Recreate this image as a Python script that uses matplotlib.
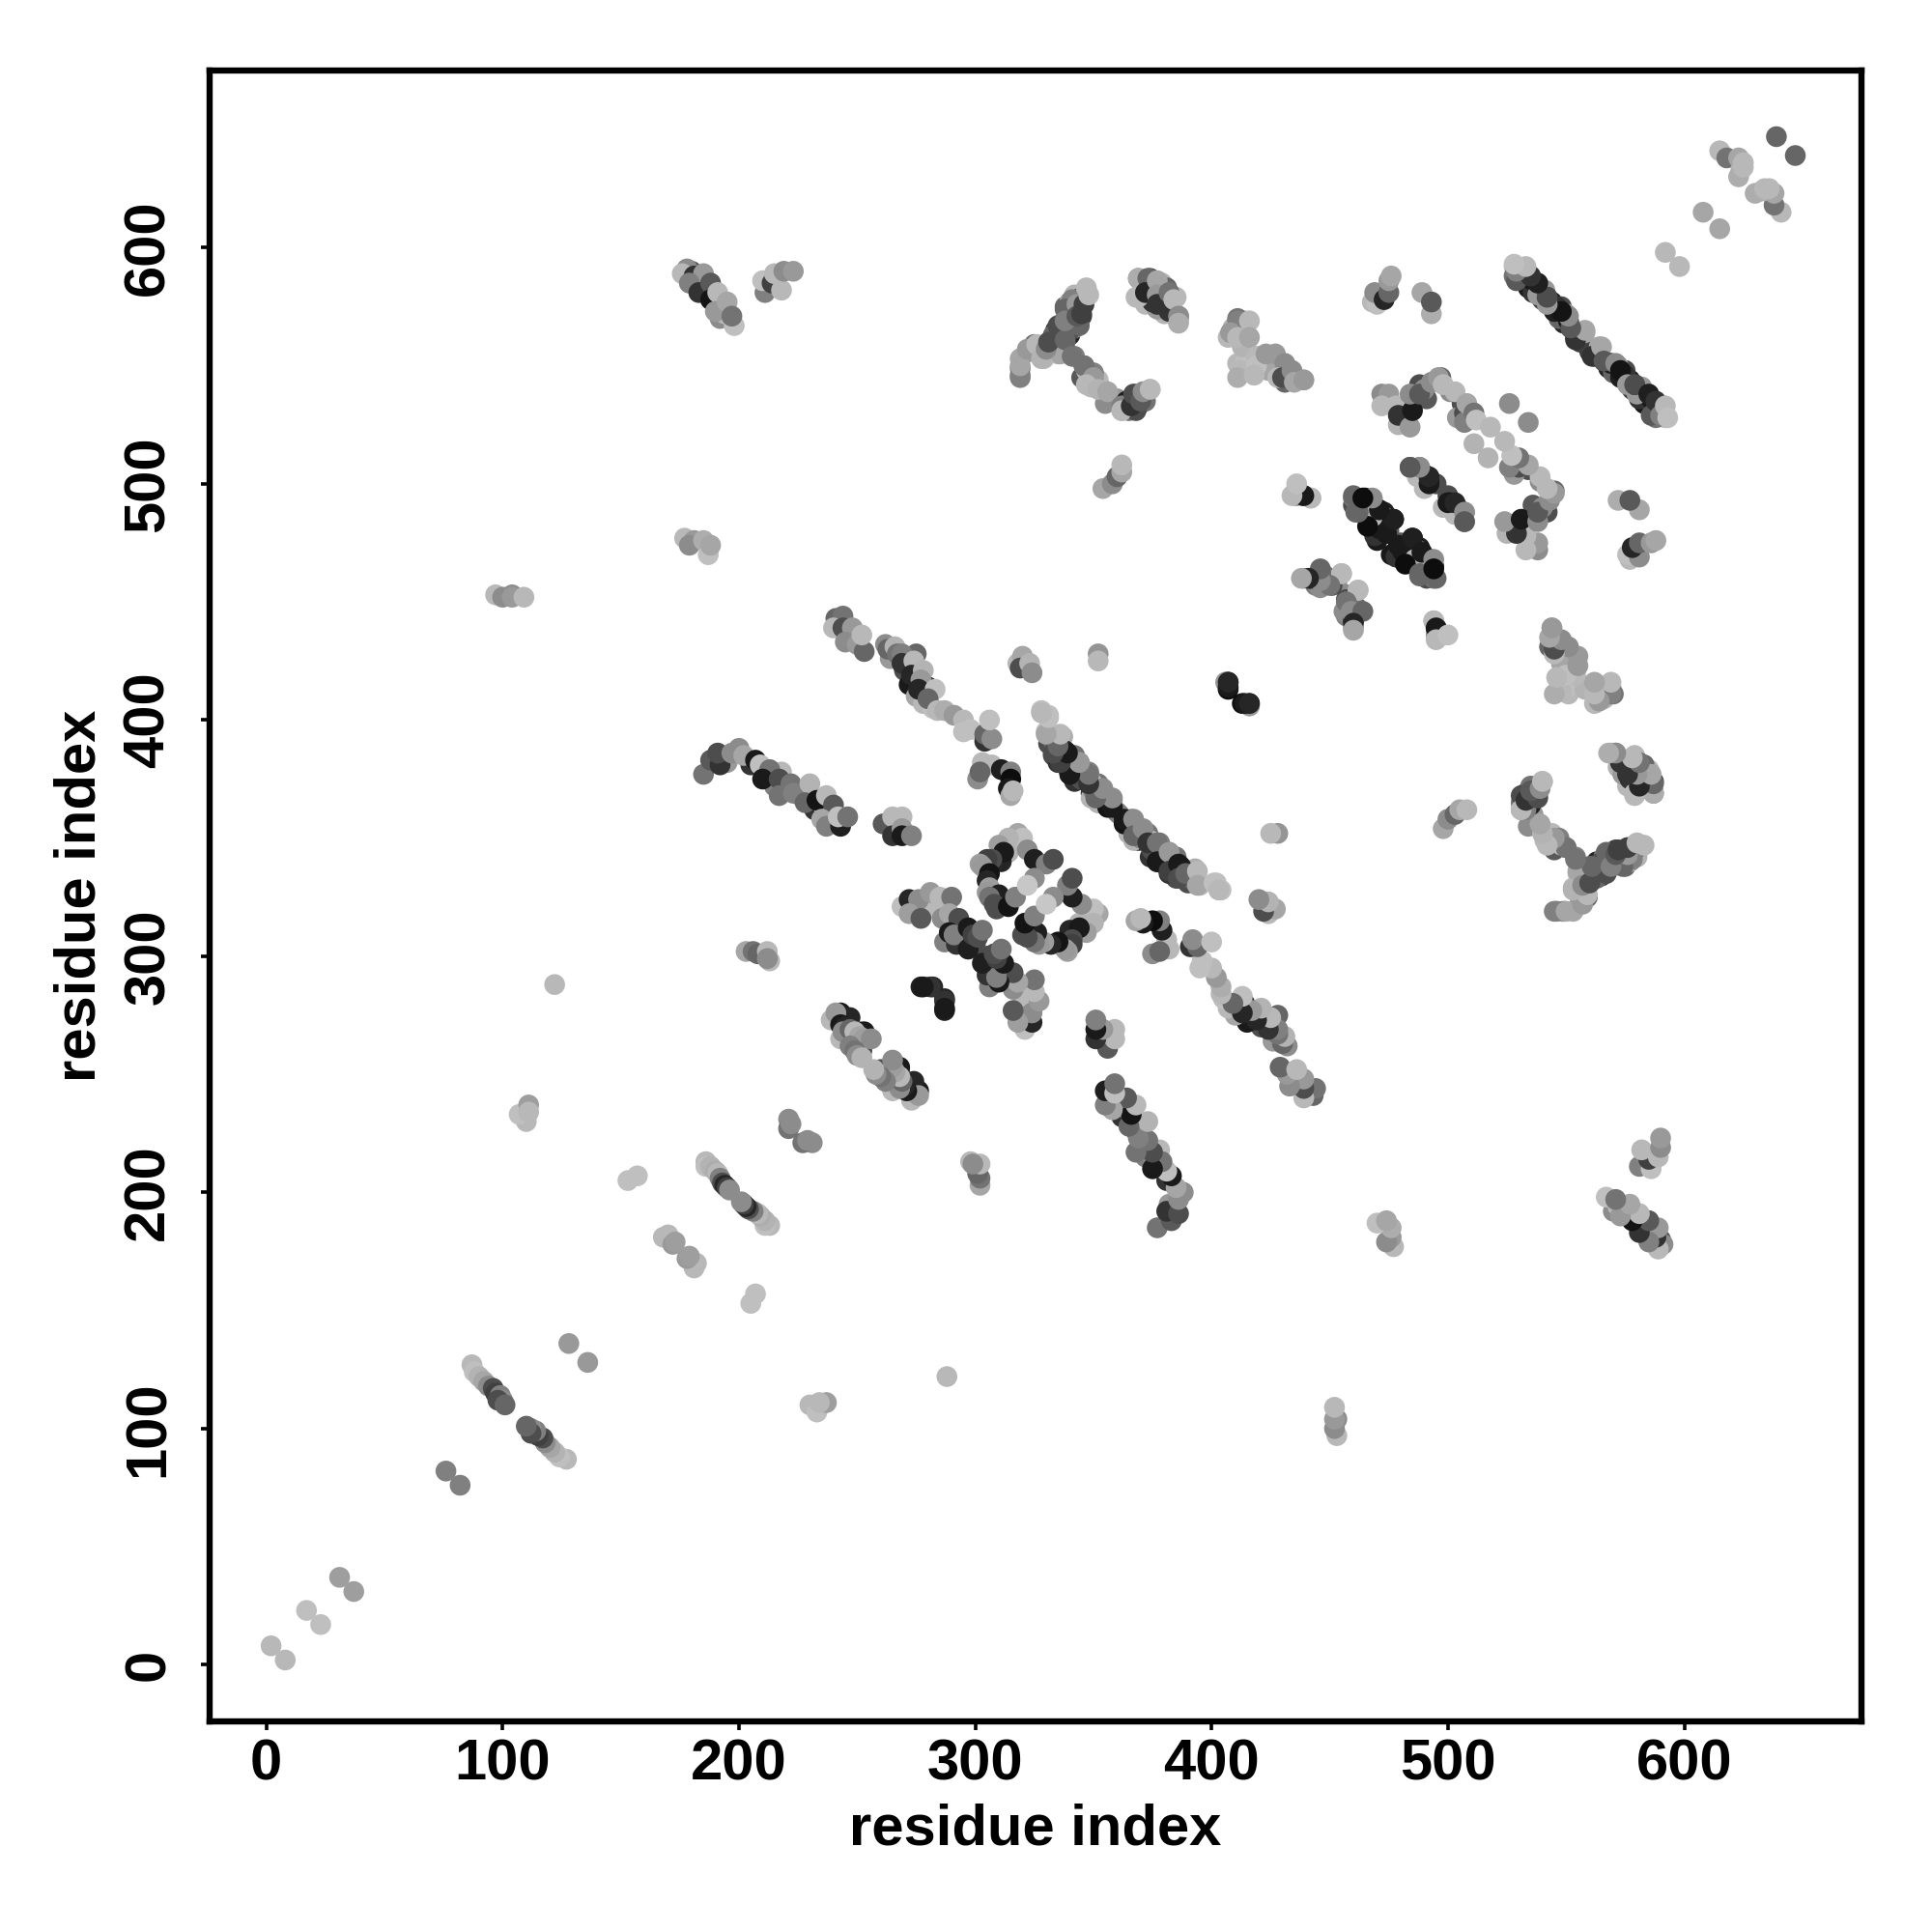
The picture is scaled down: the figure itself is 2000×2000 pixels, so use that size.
import matplotlib
matplotlib.use("Agg")
import matplotlib.pyplot as plt

plt.rcParams['font.family'] = ['Liberation Sans', 'DejaVu Sans']

tick_values = [0, 100, 200, 300, 400, 500, 600]
x_label = "residue index"
y_label = "residue index"

# Each entry: residue i, residue j, grey level. Contact maps are symmetric: (j, i) is drawn too.
near_diagonal = [(2,8,.72),(17,23,.75),(31,37,.62),(76,82,.5),(128,136,.6),(153,205,.75),(157,207,.75),
 (168,181,.72),(170,182,.72),(172,178,.6),(173,179,.62),(221,231,.55),(221,227,.45),(222,229,.55),
 (608,615,.65),(592,598,.72),(511,517,.7),(526,534,.55),(639,647,.4),
 (615,641,.72),(618,638,.45),(623,638,.65),(624,633,.7),(623,630,.68),(625,634,.72),(625,636,.72)]
hairpin_100 = [(87,127,.72),(88,124,.75),(90,122,.7),(92,120,.65),(94,118,.55),(96,117,.3),(97,115,.25),
 (99,114,.5),(100,112,.55),(98,112,.3),(101,110,.4)]
hairpin_200 = [(186,213,.72),(186,211,.75),(188,211,.7),(190,209,.68),(191,208,.72),(192,206,.5),(193,204,.3),
 (194,203,.15),(195,202,.25),(196,201,.55)]
sparse = [(122,288,.72),(97,453,.72),(100,452,.55),(104,453,.55),(104,452,.6),(109,452,.72),
 (110,230,.72),(107,233,.75),(111,237,.62),(111,234,.72),(203,302,.65),(206,302,.45),(208,301,.4),
 (212,302,.72),(213,298,.72),(212,299,.55),(277,287,.12),(282,287,.15),(281,287,.2),(278,287,.1),
 (352,428,.58),(352,425,.72),(406,416,.7),(407,413,.05),(407,416,.1),(416,406,.6),(414,407,.1),(416,407,.15)]
hairpin_257 = [(243,276,.1),(247,274,.15),(251,268,.3),(253,268,.1),(246,264,.55),(248,263,.25),(243,265,.72),(252,260,.3),
 (239,273,.72),(241,276,.6),(243,271,.1),(245,270,.15),(244,268,.55),(247,269,.4),(249,268,.72),
 (251,266,.65),(253,265,.62),(256,265,.55),(247,262,.5),(249,260,.45),(250,258,.55),(252,257,.7)]
band_a = [(264,426,.6),(270,421,.3),(272,415,.1),(275,410,.65),(280,414,.2),(278,407,.72),(282,405,.75),(275,428,.4),
 (262,432,.55),(263,430,.4),(266,431,.7),(267,428,.45),(269,428,.5),(269,424,.2),(274,425,.72),
 (273,419,.15),(278,421,.7),(277,417,.6),(276,413,.15),(283,413,.75),(280,409,.4),(284,404,.72),(287,404,.68),
 (291,402,.6),(295,400,.72),(295,395,.75),(298,396,.75),(304,391,.2),(304,394,.4),(307,392,.55),(306,400,.75)]
cluster_320_425 = [(318,424,.72),(320,427,.65),(319,422,.3),(323,424,.7),(324,420,.55)]
band_b = [(333,385,.3),(342,374,.2),(345,375,.5),(352,365,.55),(352,373,.45),(360,361,.5),(365,352,.7),(369,349,.2),
 (375,345,.3),(380,339,.15),(385,342,.45),(390,331,.3),(392,334,.55),
 (328,404,.75),(331,402,.75),(330,395,.72),(333,391,.4),(337,393,.68),(335,382,.2),(338,387,.15),(344,382,.55),
 (340,377,.15),(348,378,.5),(349,374,.72),(349,367,.7),(350,370,.5),(354,370,.55),(356,363,.08),(358,366,.6),
 (363,358,.1),(367,358,.55),(367,351,.4),(371,354,.55),(373,348,.2),(377,348,.45),(377,340,.1),(382,344,.6),
 (382,336,.25),(386,339,.1),(386,333,.3),(389,335,.4),(394,336,.72),(394,330,.65),(401,331,.75),(403,328,.72)]
cluster_310_375 = [(303,382,.72),(307,381,.72),(301,375,.55),(302,378,.4),(311,379,.12),(315,378,.5),(315,375,.05),
 (314,371,.1),(315,368,.65),(316,370,.72)]
cluster_265_355 = [(261,356,.35),(265,359,.72),(269,359,.72),(265,351,.2),(269,354,.6),(269,351,.1),(273,351,.5)]
loop_left = [(318,352,.65),(320,350,.75),(314,350,.7),(310,347,.62),(314,344,.7),(322,345,.55),(325,341,.12),
 (330,339,.5),(333,341,.3),(311,340,.15),(312,344,.1),(307,341,.3),(305,341,.25),(302,339,.62),(303,338,.6),
 (306,335,.08),(305,332,.15),(306,329,.62),(305,327,.6),(309,325,.25),(310,326,.12),(306,325,.45),(308,322,.3),
 (309,320,.3),(314,321,.08),(317,325,.5),(325,333,.55),(322,330,.78)]
band_c = [(276,319,.55),(283,320,.72),(295,308,.15),(287,306,.5),(294,310,.2),(300,305,.3),
 (269,321,.75),(272,324,.15),(276,324,.55),(272,318,.62),(277,316,.35),(281,327,.6),(285,325,.72),(290,325,.45),
 (286,316,.55),(289,318,.65),(293,316,.3),(289,310,.1),(292,305,.2),(291,309,.5),(297,312,.1),(297,303,.12),
 (299,309,.25),(301,308,.3),(303,311,.45)]
cluster_185_580 = [(182,584,.1),(186,582,.12),(193,575,.1),(192,570,.55),(180,590,.35),(194,572,.72),
 (178,591,.55),(176,589,.72),(181,588,.2),(185,589,.6),(179,585,.5),(183,581,.2),(188,585,.35),
 (188,578,.08),(191,581,.72),(190,573,.6),(195,577,.65),(198,567,.75),(197,571,.45)]
cluster_215_585 = [(211,581,.5),(210,586,.75),(214,585,.25),(218,582,.72),(215,589,.72),(219,590,.55),(223,590,.6)]
cluster_182_475 = [(177,477,.72),(181,476,.6),(179,474,.55),(185,476,.68),(187,470,.75),(188,474,.65)]
cluster_245_437 = [(241,443,.4),(244,444,.45),(240,439,.72),(244,439,.3),(248,439,.6),(245,433,.55),(250,432,.6),(253,429,.4),(252,436,.72)]
band_380 = [(195,382,.6),(205,381,.2),(212,376,.2),(215,372,.5),(220,371,.15),(226,368,.3),(232,362,.2),(236,363,.72),(240,357,.25),(218,378,.72),
 (185,377,.45),(188,383,.35),(192,381,.2),(191,386,.3),(197,386,.55),(200,388,.55),(202,385,.65),(207,383,.1),
 (209,381,.75),(213,379,.45),(210,375,.1),(217,375,.3),(222,373,.45),(217,368,.45),(223,369,.5),(230,373,.7),
 (228,365,.4),(233,366,.08),(237,368,.72),(240,364,.35),(235,358,.65),(237,355,.5),(243,355,.12),(242,359,.75),(246,359,.45)]
long_band = [(530,590,.4),(534,587,.2),(537,583,.15),(540,578,.4),(544,577,.12),(548,575,.3),(552,566,.4),(556,560,.25),
 (568,549,.15),(570,547,.4),(575,546,.2),(578,540,.25),(582,539,.45),(583,534,.1),(589,532,.15),(581,536,.2),
 (528,592,.72),(533,591,.65),(528,588,.45),(536,586,.1),(538,580,.6),(541,582,.6),(542,579,.2),(545,573,.12),
 (550,572,.65),(551,569,.1),(554,562,.15),(558,564,.65),(561,554,.2),(565,558,.65),(566,552,.35),(571,551,.55),
 (573,548,.08),(576,542,.6),(579,542,.3),(585,538,.12),(586,529,.35),(588,535,.2),(590,529,.5),(592,533,.72),(593,528,.75)]
hairpin_500 = [(509,529,.45),(506,534,.3),(501,539,.55),(497,545,.4),(491,536,.35),(481,526,.15),(488,542,.3),(480,530,.1),
 (479,525,.7),(483,529,.3),(490,540,.55),(504,528,.6),(507,530,.3),
 (472,538,.55),(475,538,.6),(472,533,.72),(478,533,.72),(479,529,.2),(484,524,.6),(485,531,.1),(484,538,.55),
 (488,538,.35),(493,543,.55),(496,545,.6),(498,542,.72),(503,539,.72),(507,526,.5),(508,534,.65),(511,530,.45),(512,527,.75),(518,524,.72)]
cluster_495_495 = [(490,504,.1),(495,500,.3),(504,489,.3),
 (484,507,.35),(488,507,.55),(487,503,.72),(492,501,.05),(498,490,.72),(500,492,.1),(503,492,.15),(507,488,.55),(507,484,.35)]
cluster_475_478 = [(463,490,.15),(470,484,.2),(468,489,.3),(475,480,.35),(476,470,.1),(483,470,.05),(490,466,.1),(491,460,.3),(478,469,.2),(462,491,.6),
 (460,494,.45),(465,494,.12),(468,493,.5),(461,488,.4),(466,486,.15),(473,488,.12),(473,486,.75),(477,485,.02),
 (471,481,.1),(479,474,.1),(485,477,.12),(486,468,.72),(482,466,.05),(489,471,.1),(488,462,.4),(494,468,.55),(495,460,.4),(494,464,.05)]
cluster_438_495 = [(436,498,.68),(436,495,.55),(439,495,.15),(442,494,.72)]
cluster_450_455 = [(444,457,.5),(449,459,.3),(453,458,.55),(461,448,.2),(456,446,.55),
 (439,460,.55),(442,460,.15),(447,462,.45),(447,458,.55),(451,457,.3),(455,462,.75),(462,455,.72),(457,450,.45),
 (459,446,.55),(464,446,.4),(460,441,.15),(460,438,.65)]
cluster_495_438 = [(494,442,.72),(495,439,.1),(495,434,.72),(500,436,.75)]
cluster_550_420 = [(548,428,.6),(552,424,.72),(547,432,.45),(549,416,.72),(553,414,.65),(565,412,.72),(548,425,.5),
 (544,439,.65),(545,434,.55),(543,431,.4),(550,431,.6),(553,427,.65),(554,421,.7),(549,419,.65),(547,412,.72),
 (551,411,.72),(556,415,.72),(563,414,.72),(569,414,.72),(562,407,.72),(566,409,.7),(570,411,.45)]
cluster_578_378 = [(573,383,.05),(572,380,.7),(577,379,.1),(582,377,.35),(585,379,.72),(583,372,.55),(576,372,.72),
 (569,386,.72),(571,386,.5),(576,383,.15),(579,385,.72),(574,377,.6),(583,381,.4),(577,375,.2),(581,373,.65),
 (579,369,.72),(587,369,.55),(587,374,.3)]
cluster_503_358 = [(498,354,.65),(500,358,.55),(503,360,.4),(505,362,.65),(508,362,.72)]
y_shape = [(533,369,.3),(538,368,.72),(544,352,.72),(545,345,.35),(563,340,.15),(569,340,.1),(573,342,.1),(575,338,.4),(565,334,.2),(580,342,.7),(555,335,.72),(548,347,.72),
 (540,374,.72),(535,372,.45),(531,365,.45),(534,366,.15),(531,362,.65),(536,360,.6),(540,354,.72),(541,349,.72),
 (547,350,.5),(550,346,.45),(554,342,.5),(560,338,.4),(553,329,.72),(558,331,.6),(566,342,.55),(562,337,.3),(568,337,.1),
 (571,345,.25),(575,345,.55),(577,340,.65),(579,345,.15),(582,347,.72),(559,325,.4),(546,319,.5),(549,319,.45),(553,319,.65),(556,323,.6),(557,327,.55)]
cluster_335_560 = [(333,563,.4),(340,565,.3),(344,567,.4),(336,555,.65),(341,578,.5),
 (319,545,.5),(319,550,.65),(322,557,.6),(326,559,.72),(328,553,.7),(330,557,.55),(331,560,.3),(335,567,.3),(338,561,.4),
 (338,574,.4),(338,569,.5),(343,576,.6),(343,571,.35),(345,572,.25),(346,576,.25),(347,583,.72),(348,580,.72)]
arc_355_540 = [(355,534,.55),(364,535,.12),(368,531,.3),
 (341,554,.45),(346,550,.45),(350,545,.6),(347,542,.72),(352,540,.7),(356,539,.65),(362,533,.5),(362,531,.72),(366,533,.2),(367,538,.3),
 (370,535,.35),(371,539,.55),(374,540,.72)]
cluster_378_580 = [(375,583,.1),(380,576,.08),(383,573,.65),(371,584,.3),
 (369,587,.68),(373,587,.4),(368,579,.72),(372,581,.15),(377,586,.65),(377,580,.6),(377,576,.2),(382,581,.45),(382,573,.2),(384,578,.72),(386,571,.55),(386,568,.68)]
cluster_420_555 = [(412,565,.45),(414,551,.75),(413,558,.7),(424,548,.65),(432,546,.3),
 (411,569,.5),(416,569,.72),(408,564,.6),(411,562,.72),(416,562,.65),(412,548,.72),(411,545,.68),(419,554,.72),(419,550,.75),(423,555,.6),(427,555,.6),
 (418,546,.72),(431,551,.55),(428,545,.72),(430,545,.3),(434,548,.55),(435,543,.65),(439,544,.6)]
cluster_472_582 = [(468,577,.72),(470,576,.75),(469,581,.55),(473,578,.15),(475,581,.4),(475,586,.6),(476,588,.65)]
cluster_490_577 = [(489,581,.65),(493,572,.68),(493,577,.35)]

contact_groups = [near_diagonal, hairpin_100, hairpin_200, sparse, hairpin_257, band_a, cluster_320_425, band_b,
    cluster_310_375, cluster_265_355, loop_left, band_c, cluster_185_580, cluster_215_585, cluster_182_475,
    cluster_245_437, band_380, long_band, hairpin_500, cluster_495_495, cluster_475_478, cluster_438_495,
    cluster_450_455, cluster_495_438, cluster_550_420, cluster_578_378, cluster_503_358, y_shape,
    cluster_335_560, arc_355_540, cluster_378_580, cluster_420_555, cluster_472_582, cluster_490_577]

fig = plt.figure(figsize=(10, 10), dpi=200)
ax = fig.add_axes([217/2000, 1 - 1782/2000, (1927 - 217)/2000, (1782 - 73)/2000])

for group in contact_groups:
    for i, j, g in group:
        ax.scatter([i, j], [j, i], s=60, color=[(g, g, g)] * 2, linewidths=0, zorder=2)

ax.set_xlim(-24, 675)
ax.set_ylim(-24, 675)
ax.set_xticks(tick_values)
ax.set_yticks(tick_values)
ax.tick_params(axis='x', length=3.2, width=1.3, labelsize=21.5, pad=3)
ax.tick_params(axis='y', length=3.2, width=1.3, labelsize=21.5, pad=9.5)
for t in ax.get_xticklabels() + ax.get_yticklabels():
    t.set_fontweight('bold')
for t in ax.get_yticklabels():
    t.set_rotation(90)
    t.set_va('center')
for s in ax.spines.values():
    s.set_linewidth(2.3)
ax.set_xlabel(x_label, fontsize=21.5, fontweight='bold', labelpad=4.5)
ax.set_ylabel(y_label, fontsize=21.5, fontweight='bold', labelpad=6)

fig.savefig("out.png", dpi=200, facecolor='white')
